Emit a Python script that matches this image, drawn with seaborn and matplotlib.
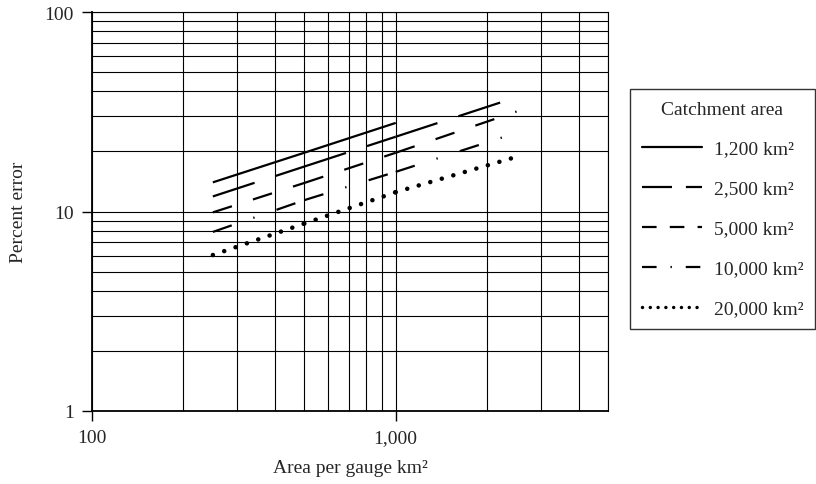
import matplotlib
matplotlib.use("Agg")
import matplotlib.pyplot as plt
from matplotlib.lines import Line2D
import numpy as np
import pandas as pd
import seaborn as sns

# Area per gauge (km²) at the curve break points
area_per_gauge = [250, 500, 1000, 2500]

# Percent error for each catchment size
err_1200 = [14.0, 19.7, 27.8]
err_2500 = [11.9, 16.8, 23.7, 37.4]
err_5000 = [9.9, 13.9, 19.7, 31.7]
err_10000 = [7.9, 11.4, 15.8, 24.8]
err_20000 = [6.05, 8.7, 12.5, 18.8]

catchments = ["1,200 km²", "2,500 km²", "5,000 km²", "10,000 km²", "20,000 km²"]
series = [err_1200, err_2500, err_5000, err_10000, err_20000]

x_ticks = [100, 1000]
x_tick_labels = ["100", "1,000"]
y_ticks = [1, 10, 100]
y_tick_labels = ["1", "10", "100"]

sns.set_style("white")
plt.rcParams["font.family"] = ["Liberation Serif", "DejaVu Serif"]
plt.rcParams["lines.scale_dashes"] = False

fig = plt.figure(figsize=(8.16, 4.85), dpi=100)
W, H = 816, 485
ax = fig.add_axes([92 / W, (H - 412) / H, (608 - 92) / W, (412 - 13) / H])

# dash patterns (points) for the curves; each segment restarts its pattern
styles = [
    dict(ls="-", lw=1.6, cap="butt"),
    dict(ls=(0, (31.6, 15.9)), lw=1.6, cap="butt"),
    dict(ls=(0, (14.4, 15.9)), lw=1.6, cap="butt"),
    dict(ls=(0, (14.4, 16.4, 1.0, 16.7)), lw=1.6, cap="butt"),
    dict(ls=(0, (0.01, 8.63)), lw=3.3, cap="round"),
]

for name, vals, st in zip(catchments, series, styles):
    xs = area_per_gauge[: len(vals)]
    rows = []
    for i in range(len(xs) - 1):
        rows.append(dict(x=xs[i], y=vals[i], seg=i))
        rows.append(dict(x=xs[i + 1], y=vals[i + 1], seg=i))
    df = pd.DataFrame(rows)
    n0 = len(ax.lines)
    sns.lineplot(data=df, x="x", y="y", units="seg", estimator=None,
                 color="black", lw=st["lw"], ax=ax, legend=False, sort=False)
    for ln in ax.lines[n0:]:
        ln.set_linestyle(st["ls"])
        ln.set_dash_capstyle(st["cap"])
        ln.set_solid_capstyle("butt")
        ln.set_zorder(3)

ax.set_xscale("log")
ax.set_yscale("log")
ax.set_xlim(100, 5000)
ax.set_ylim(1, 100)

ax.set_axisbelow(True)
ax.grid(True, which="both", color="black", linewidth=0.8)

ax.set_xticks(x_ticks)
ax.set_xticklabels(x_tick_labels)
ax.set_yticks(y_ticks)
ax.set_yticklabels(y_tick_labels)
ax.xaxis.set_minor_formatter(matplotlib.ticker.NullFormatter())
ax.yaxis.set_minor_formatter(matplotlib.ticker.NullFormatter())
ax.tick_params(which="major", direction="out", length=7, width=1.0,
               color="black", labelsize=14, bottom=True, left=True, pad=6)
ax.tick_params(which="minor", length=0)

for side in ["top", "right"]:
    ax.spines[side].set_color("black")
    ax.spines[side].set_linewidth(0.8)
for side in ["left", "bottom"]:
    ax.spines[side].set_color("black")
    ax.spines[side].set_linewidth(1.3)

ax.set_xlabel("Area per gauge km²", fontsize=14, labelpad=9)
ax.set_ylabel("Percent error", fontsize=14, labelpad=13)

# legend samples
handles = [
    Line2D([], [], color="black", lw=1.6, ls="-"),
    Line2D([], [], color="black", lw=1.6, ls=(0, (21.6, 10.0))),
    Line2D([], [], color="black", lw=1.6, ls=(0, (10.5, 9.5))),
    Line2D([], [], color="black", lw=1.6, ls=(0, (10.5, 10.0, 1.0, 10.0))),
    Line2D([], [], color="black", lw=2.5, ls=(0, (0.01, 5.6)),
           dash_capstyle="round"),
]
leg = fig.legend(handles, catchments, title="Catchment area",
                 loc="center left", bbox_to_anchor=(630 / W, (H - 210) / H),
                 fontsize=14, title_fontsize=14, frameon=True, fancybox=False,
                 edgecolor="black", handlelength=3.1, handletextpad=0.6,
                 borderpad=0.6, labelspacing=1.15, borderaxespad=0)
leg.get_frame().set_linewidth(1.0)

fig.savefig("out.png", dpi=100)
